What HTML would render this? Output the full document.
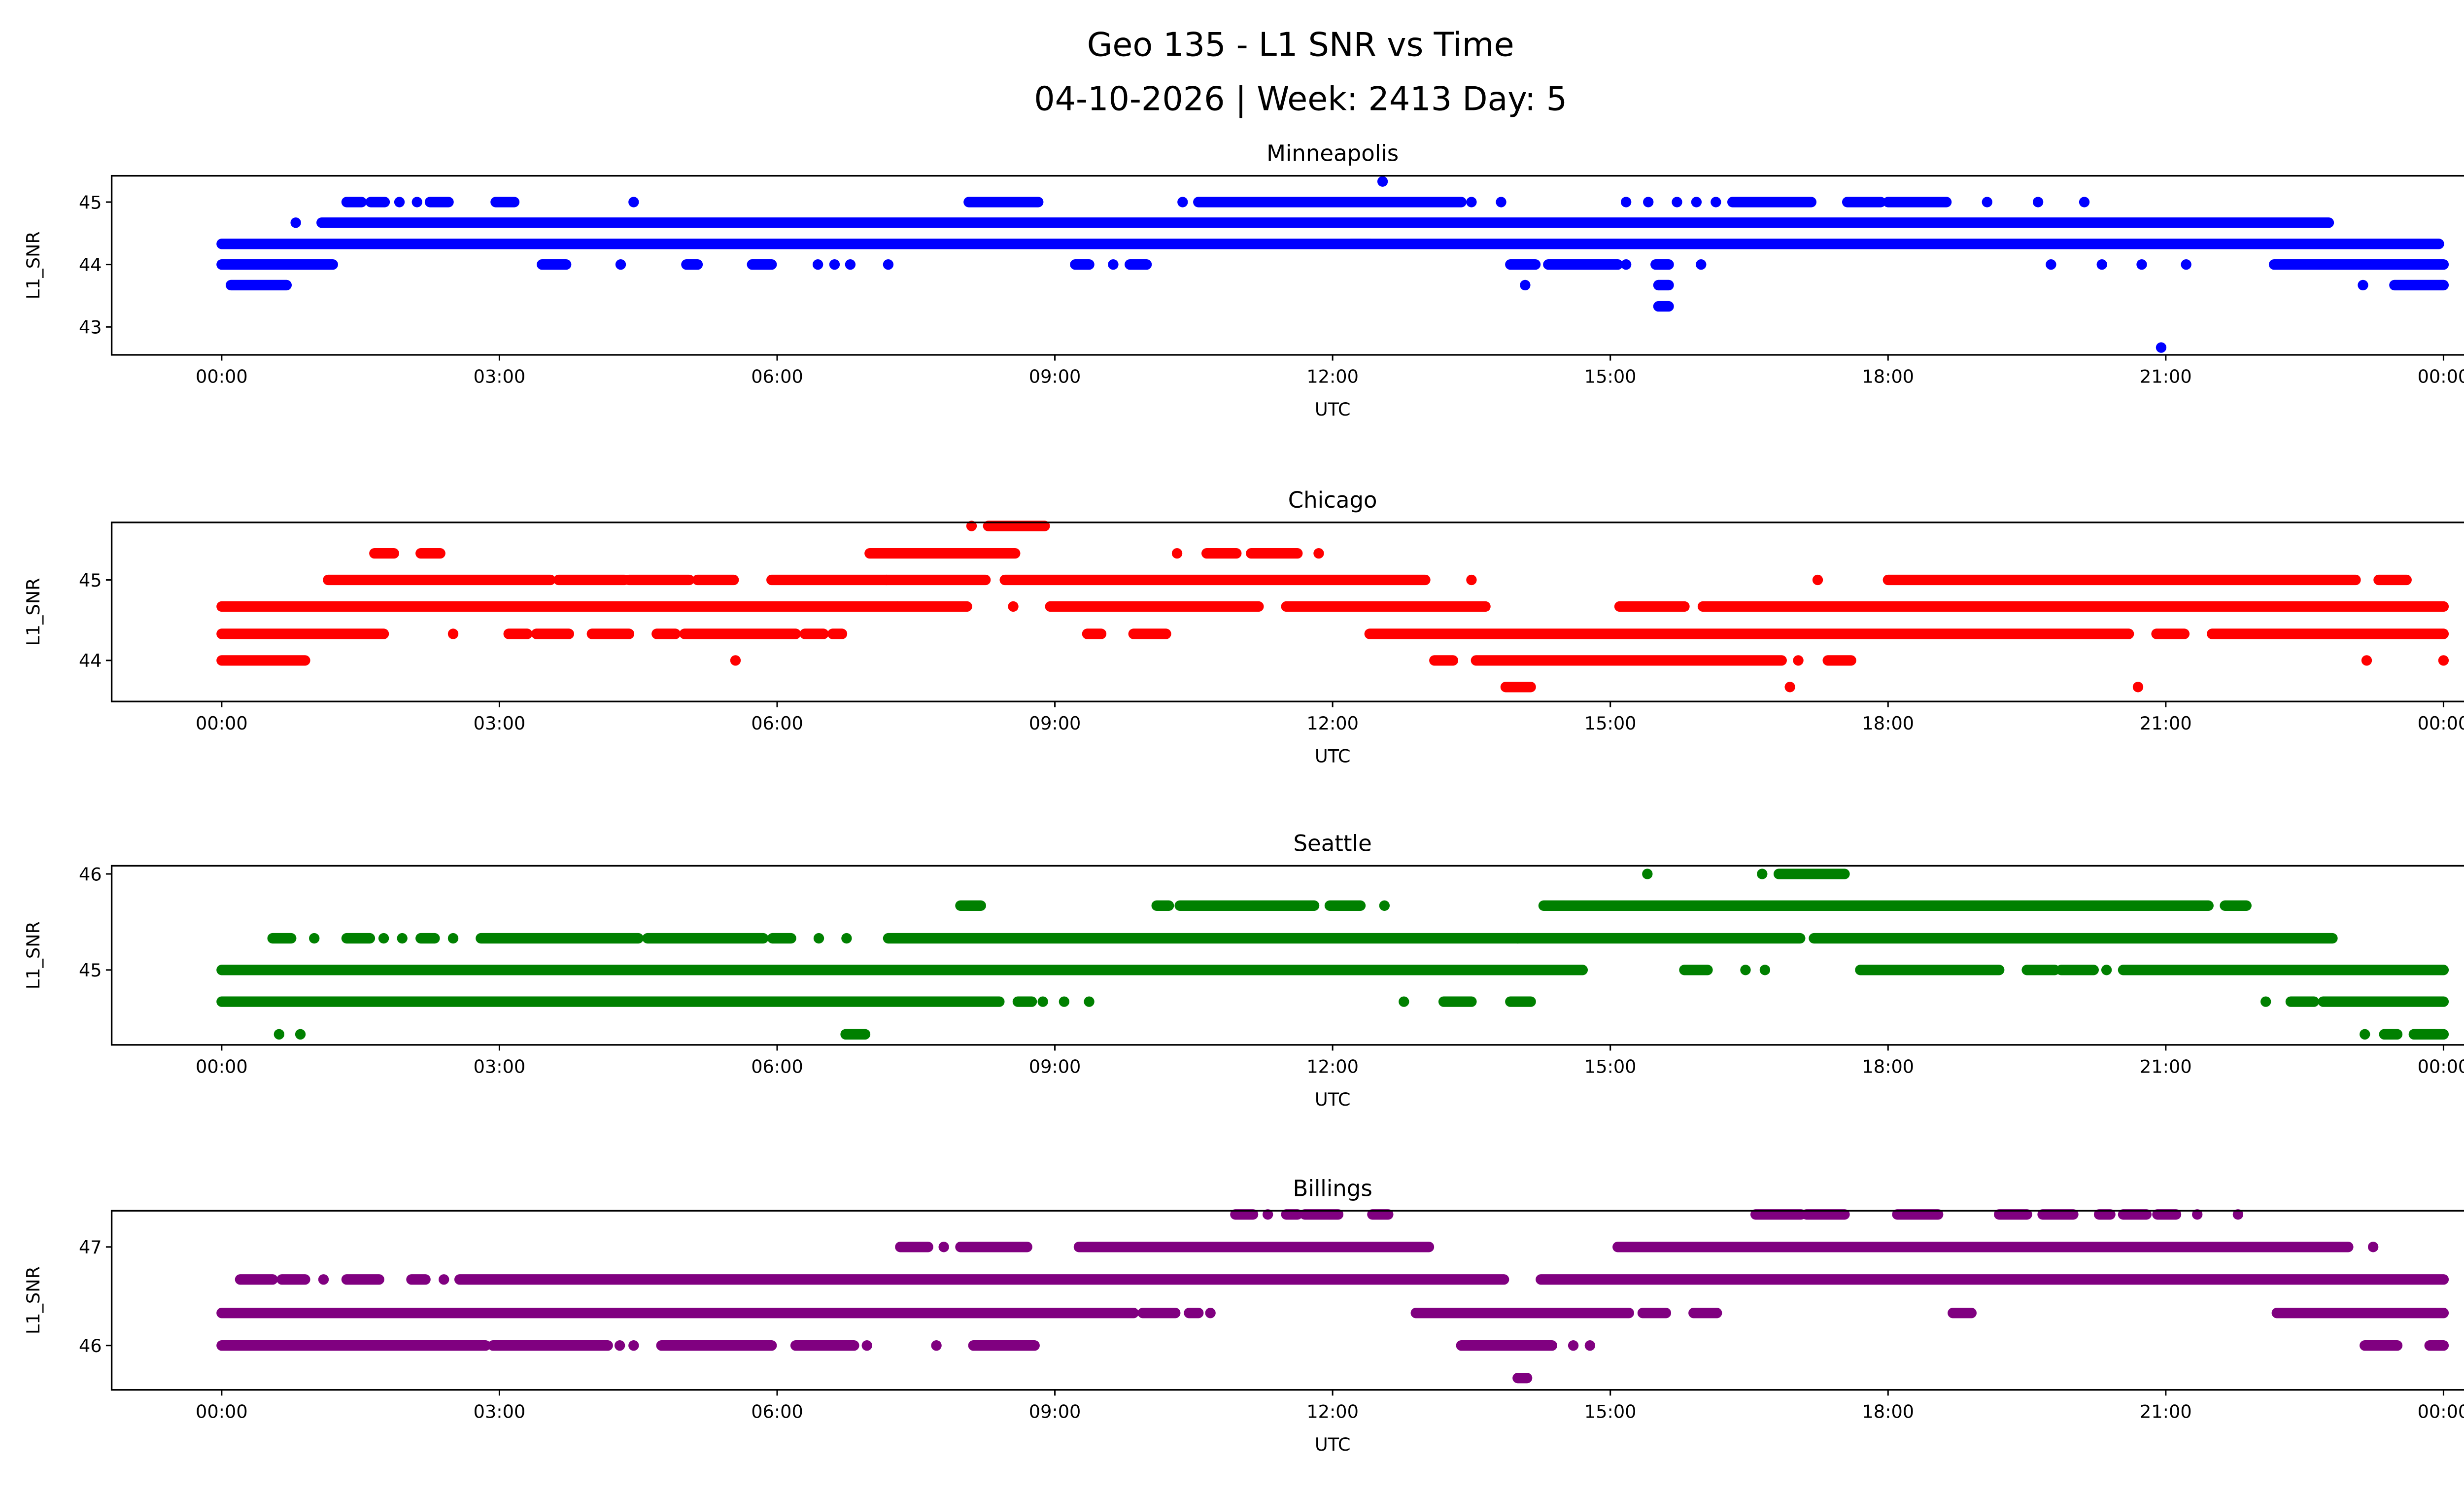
<!DOCTYPE html>
<html><head><meta charset="utf-8"><style>
html,body{margin:0;padding:0;background:#fff;width:5225px;height:3033px;overflow:hidden}
svg{display:block;position:absolute;left:0;top:0}
text{font-family:"DejaVu Sans","Liberation Sans",sans-serif;fill:#000}
</style></head><body>
<svg id="fig" width="5225" height="3033" viewBox="0 0 1568 910" preserveAspectRatio="none" xmlns="http://www.w3.org/2000/svg">
<rect width="1568" height="910" fill="#fff"/>
<text x="792" y="34" font-size="20" text-anchor="middle">Geo 135 - L1 SNR vs Time</text>
<text x="792" y="67" font-size="20" text-anchor="middle">04-10-2026 | Week: 2413 Day: 5</text>
</svg>
<script>
const panelNames = ["Minneapolis","Chicago","Seattle","Billings"];
const panelColors = ["#0000ff","#ff0000","#008000","#800080"];
const xTickHours = [0,3,6,9,12,15,18,21,24];
const xTickLabels = ["00:00","03:00","06:00","09:00","12:00","15:00","18:00","21:00","00:00"];
const yTicks1 = [43,44,45];
const yTicks2 = [44,45];
const yTicks3 = [45,46];
const yTicks4 = [46,47];
const yDomain1 = [42.553,45.421];
const yDomain2 = [43.49,45.714];
const yDomain3 = [44.22,46.085];
const yDomain4 = [45.55,47.367];
// runs: [snr, startHour, endHour] (single points have start==end)
const runs1 = [
[44.33,0,23.95],[44.67,0.8,0.8],[44.67,1.08,22.76],
[45,1.35,1.51],[45,1.61,1.76],[45,1.92,1.92],[45,2.11,2.11],[45,2.25,2.45],[45,2.96,3.16],[45,4.45,4.45],[45,8.07,8.82],[45,10.38,10.38],[45,10.55,13.39],[45,13.5,13.5],[45,13.82,13.82],[45,15.17,15.17],[45,15.41,15.41],[45,15.72,15.72],[45,15.93,15.93],[45,16.14,16.14],[45,16.32,17.17],[45,17.56,17.92],[45,18.0,18.63],[45,19.07,19.07],[45,19.62,19.62],[45,20.12,20.12],
[44,0,1.2],[44,3.46,3.72],[44,4.31,4.31],[44,5.02,5.14],[44,5.73,5.94],[44,6.44,6.44],[44,6.62,6.62],[44,6.79,6.79],[44,7.2,7.2],[44,9.22,9.37],[44,9.63,9.63],[44,9.81,9.99],[44,13.92,14.19],[44,14.33,15.08],[44,15.17,15.17],[44,15.49,15.63],[44,15.98,15.98],[44,19.76,19.76],[44,20.31,20.31],[44,20.74,20.74],[44,21.22,21.22],[44,22.17,24],
[43.67,0.1,0.7],[43.67,14.08,14.08],[43.67,15.52,15.63],[43.67,23.13,23.13],[43.67,23.47,24],
[43.33,15.52,15.63],[45.33,12.54,12.54],[42.67,20.95,20.95],[44.33,12.2,12.4]
];
const runs2 = [
[44.67,0,7.3],[44.67,7.3,8.05],[44.67,8.55,8.55],[44.67,8.95,11.2],[44.67,11.5,13.65],[44.67,15.1,15.8],[44.67,16.0,24],
[44.33,0,1.75],[44.33,2.5,2.5],[44.33,3.1,3.3],[44.33,3.4,3.75],[44.33,4.0,4.4],[44.33,4.7,4.9],[44.33,5.0,6.2],[44.33,6.3,6.5],[44.33,6.6,6.7],[44.33,9.35,9.5],[44.33,9.85,10.2],[44.33,12.4,20.6],[44.33,20.9,21.2],[44.33,21.5,24],
[44,0,0.9],[44,5.55,5.55],[44,13.1,13.3],[44,13.55,16.85],[44,17.03,17.03],[44,17.35,17.6],[44,23.17,23.17],[44,24,24],
[43.67,13.87,14.14],[43.67,16.94,16.94],[43.67,20.7,20.7],
[45,1.15,3.55],[45,3.64,4.35],[45,4.4,5.05],[45,5.14,5.53],[45,5.94,7.18],[45,7.18,8.25],[45,8.46,13.0],[45,13.5,13.5],[45,17.24,17.24],[45,18.0,23.05],[45,23.3,23.6],
[45.33,1.65,1.86],[45.33,2.15,2.36],[45.33,7.0,8.57],[45.33,10.32,10.32],[45.33,10.64,10.96],[45.33,11.12,11.62],[45.33,11.85,11.85],
[45.67,8.1,8.1],[45.67,8.28,8.89]
];
const runs3 = [
[45,0,14.7],[45,15.8,16.05],[45,16.46,16.46],[45,16.67,16.67],[45,17.7,19.2],[45,19.5,19.8],[45,19.87,20.22],[45,20.36,20.36],[45,20.54,24],
[44.67,0,8.4],[44.67,8.6,8.75],[44.67,8.87,8.87],[44.67,9.1,9.1],[44.67,9.37,9.37],[44.67,12.77,12.77],[44.67,13.2,13.5],[44.67,13.92,14.14],[44.67,22.08,22.08],[44.67,22.35,22.6],[44.67,22.7,24],
[44.33,0.62,0.62],[44.33,0.85,0.85],[44.33,6.74,6.95],[44.33,23.15,23.15],[44.33,23.36,23.5],[44.33,23.68,24],
[45.33,0.55,0.75],[45.33,1.0,1.0],[45.33,1.35,1.6],[45.33,1.75,1.75],[45.33,1.95,1.95],[45.33,2.15,2.3],[45.33,2.5,2.5],[45.33,2.8,4.5],[45.33,4.6,5.85],[45.33,5.95,6.15],[45.33,6.45,6.45],[45.33,6.75,6.75],[45.33,7.2,14.0],[45.33,14.0,17.05],[45.33,17.2,22.8],
[45.67,7.98,8.2],[45.67,10.1,10.23],[45.67,10.35,11.8],[45.67,11.97,12.3],[45.67,12.56,12.56],[45.67,14.28,21.46],[45.67,21.64,21.87],
[46,15.4,15.4],[46,16.64,16.64],[46,16.82,17.53]
];
const runs4 = [
[46.33,0,9.85],[46.33,9.95,10.3],[46.33,10.45,10.55],[46.33,10.68,10.68],[46.33,12.9,15.2],[46.33,15.35,15.6],[46.33,15.9,16.15],[46.33,18.7,18.9],[46.33,22.2,24],
[46,0,2.85],[46,2.93,4.17],[46,4.3,4.3],[46,4.45,4.45],[46,4.75,5.94],[46,6.2,6.83],[46,6.97,6.97],[46,7.72,7.72],[46,8.12,8.78],[46,13.39,14.37],[46,14.6,14.6],[46,14.78,14.78],[46,23.15,23.5],[46,23.85,24],
[46.67,0.2,0.55],[46.67,0.65,0.9],[46.67,1.1,1.1],[46.67,1.35,1.7],[46.67,2.05,2.2],[46.67,2.4,2.4],[46.67,2.57,13.85],[46.67,14.25,24],
[47,7.33,7.63],[47,7.8,7.8],[47,7.98,8.7],[47,9.26,13.04],[47,15.08,22.97],[47,23.24,23.24],
[47.33,10.95,11.14],[47.33,11.3,11.3],[47.33,11.5,11.62],[47.33,11.7,12.06],[47.33,12.43,12.6],[47.33,16.57,17.06],[47.33,17.12,17.53],[47.33,18.1,18.54],[47.33,19.2,19.5],[47.33,19.67,20.0],[47.33,20.28,20.4],[47.33,20.54,20.79],[47.33,20.91,21.11],[47.33,21.34,21.34],[47.33,21.78,21.78],
[45.67,14.0,14.1]
];
const allRuns=[runs1,runs2,runs3,runs4];
const allTicks=[yTicks1,yTicks2,yTicks3,yTicks4];
const allDomains=[yDomain1,yDomain2,yDomain3,yDomain4];
const boxTops=[107,318,527,737];
const boxH=109, x0=68, x1=1555;
const NS="http://www.w3.org/2000/svg";
const svg=document.getElementById('fig');
function mk(tag,attrs,parent){const e=document.createElementNS(NS,tag);for(const k in attrs)e.setAttribute(k,attrs[k]);(parent||svg).appendChild(e);return e;}
function xs(h){return 135+h*(1353/24);}
for(let p=0;p<4;p++){
  const top=boxTops[p], bot=top+boxH, dom=allDomains[p];
  const ys=v=>bot-(v-dom[0])/(dom[1]-dom[0])*boxH;
  const g=mk('g',{});
  
  
  const t=mk('text',{x:(x0+x1)/2,y:top-9,'font-size':13.5,'text-anchor':'middle'},g);
  t.textContent=panelNames[p];
  
  
  const marks=mk('g',{stroke:panelColors[p],fill:panelColors[p],'stroke-linecap':'round','stroke-width':6.4},g);
  
  
  allRuns[p].forEach(r=>{
    const y=ys(r[0]);
    const l=mk('line',{x1:xs(r[1]),y1:y,x2:xs(r[2]),y2:y},marks);
    
    
  });
  const frame=mk('rect',{x:x0,y:top,width:x1-x0,height:boxH,fill:'none',stroke:'#000','stroke-width':1},g);
  
  
  xTickHours.forEach((h,i)=>{
    const x=xs(h);
    mk('line',{x1:x,y1:bot,x2:x,y2:bot+3.5,stroke:'#000','stroke-width':0.9},g);
    const tl=mk('text',{x:x,y:bot+17,'font-size':11,'text-anchor':'middle'},g);
    tl.textContent=xTickLabels[i];
    
    
  });
  allTicks[p].forEach(v=>{
    const y=ys(v);
    mk('line',{x1:x0-3.5,y1:y,x2:x0,y2:y,stroke:'#000','stroke-width':0.9},g);
    const tl=mk('text',{x:x0-6,y:y+4,'font-size':11,'text-anchor':'end'},g);
    tl.textContent=String(v);
    
    
  });
  const xl=mk('text',{x:(x0+x1)/2,y:bot+37,'font-size':11,'text-anchor':'middle'},g);
  xl.textContent='UTC';
  
  
  const yl=mk('text',{x:0,y:0,'font-size':11,'text-anchor':'middle',transform:'translate(24,'+(top+boxH/2)+') rotate(-90)'},g);
  yl.textContent='L1_SNR';
  
  
}
</script>
</body></html>
